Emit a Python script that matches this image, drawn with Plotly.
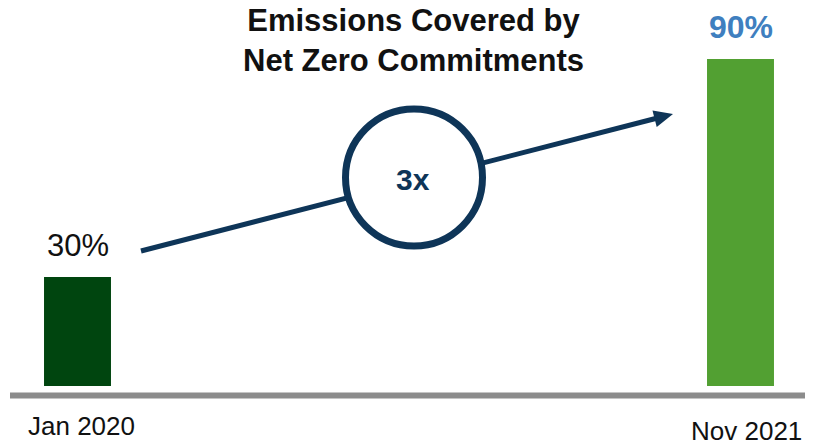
import plotly.graph_objects as go

# Chart data
periods = ["Jan 2020", "Nov 2021"]
coverage_pct = [30, 90]
bar_colors = ["#00450F", "#52A032"]
label_colors = ["#111111", "#3F7FBF"]
label_bold = [False, True]
multiplier_text = "3x"
title_lines = ["Emissions Covered by", "Net Zero Commitments"]

W, H = 817, 445
NAVY = "#0E3558"
FONT = "Arial, Liberation Sans, sans-serif"


def px(x):
    return x / W


def py(y):
    return 1 - y / H


fig = go.Figure()
fig.add_trace(go.Bar(
    x=list(range(len(periods))),
    y=coverage_pct,
    width=0.101,
    marker=dict(color=bar_colors, line=dict(width=0)),
    hoverinfo="skip",
))

# value labels above bars
annotations = []
for i, (v, c, b) in enumerate(zip(coverage_pct, label_colors, label_bold)):
    annotations.append(dict(
        x=i, y=v, xref="x", yref="y", text=f"{v}%", showarrow=False,
        yanchor="bottom", yshift=12,
        font=dict(family=FONT, size=32 if b else 31, color=c,
                  weight="bold" if b else "normal"),
    ))

# period labels under the baseline
for i, (lab, ypix, xs) in enumerate(zip(periods, [426, 431], [4, 6])):
    annotations.append(dict(
        x=i, y=py(ypix), xref="x", yref="paper", text=lab, showarrow=False,
        yanchor="middle", xshift=xs, font=dict(family=FONT, size=26, color="#111111"),
    ))

# multiplier in the circle
annotations.append(dict(
    x=px(413), y=py(179), xref="paper", yref="paper", text=f"<b>{multiplier_text}</b>",
    showarrow=False, font=dict(family=FONT, size=30, color=NAVY),
))

# title
annotations.append(dict(
    x=px(413), y=py(41), xref="paper", yref="paper",
    text="<b>" + "<br>".join(title_lines) + "</b>",
    showarrow=False, yanchor="middle",
    font=dict(family=FONT, size=31, color="#111111"),
))

# growth arrow: shaft, head, then the circle drawn over it
x0, y0, xt, yt = 141, 251, 673, 114
dx, dy = xt - x0, yt - y0
L = (dx ** 2 + dy ** 2) ** 0.5
ux, uy = dx / L, dy / L
nx, ny = -uy, ux
head_len, head_half = 19, 8.5
bx, by = xt - head_len * ux, yt - head_len * uy
c1 = (bx + head_half * nx, by + head_half * ny)
c2 = (bx - head_half * nx, by - head_half * ny)

shapes = [
    dict(type="line", xref="paper", yref="paper",
         x0=px(10), x1=px(805), y0=py(395.5), y1=py(395.5),
         line=dict(color="#8C8C8C", width=6)),
    dict(type="line", xref="paper", yref="paper",
         x0=px(x0), y0=py(y0), x1=px(bx + 2 * ux), y1=py(by + 2 * uy),
         line=dict(color=NAVY, width=5)),
    dict(type="path", xref="paper", yref="paper",
         path=f"M {px(xt)} {py(yt)} L {px(c1[0])} {py(c1[1])} L {px(c2[0])} {py(c2[1])} Z",
         fillcolor=NAVY, line=dict(width=0)),
    dict(type="circle", xref="paper", yref="paper",
         x0=px(414 - 68.5), x1=px(414 + 68.5), y0=py(177.5 + 68.5), y1=py(177.5 - 68.5),
         fillcolor="white", line=dict(color=NAVY, width=7)),
]

# y scale: 0 at 386 px, 109 px per 30 points
ppu = 109 / 30
fig.update_layout(
    width=W, height=H,
    margin=dict(l=0, r=0, t=0, b=0),
    paper_bgcolor="white", plot_bgcolor="white",
    showlegend=False,
    xaxis=dict(range=[-77.5 / 663, 1 + 76.5 / 663], visible=False, fixedrange=True),
    yaxis=dict(range=[-(H - 386) / ppu, 386 / ppu], visible=False, fixedrange=True),
    shapes=shapes,
    annotations=annotations,
)

fig.write_html("out.html")
